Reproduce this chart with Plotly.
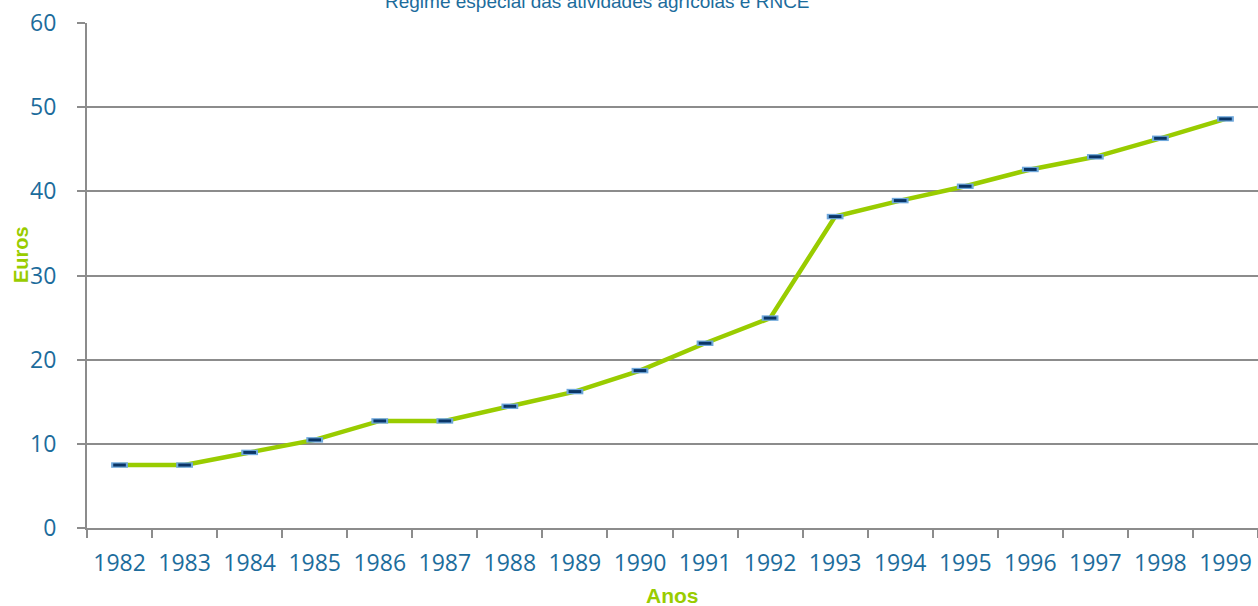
import plotly.graph_objects as go

years = [str(y) for y in range(1982, 2000)]
values = [7.48, 7.48, 8.98, 10.47, 12.72, 12.72, 14.46, 16.21, 18.70, 21.95, 24.94,
          37.0, 38.9, 40.6, 42.6, 44.1, 46.3, 48.6]

title_text = "Regime especial das atividades agrícolas e RNCE"
x_title = "Anos"
y_title = "Euros"

BLUE_TXT = "#1c6c9c"
GREEN = "#99cc00"
GRID = "#8c8c8c"

L, T, W, H = 87, 23, 1171, 505  # plot area in pixels


def px_x(x):
    return (x - L) / W


def px_y(y):
    return (T + H - y) / H


fig = go.Figure()
fig.add_trace(go.Scatter(x=years, y=values, mode="lines",
                         line=dict(color=GREEN, width=4.5), hoverinfo="skip", showlegend=False))
fig.add_trace(go.Scatter(x=years, y=values, mode="markers",
                         marker=dict(symbol="line-ew", size=12, line=dict(color="#6fa8dc", width=5.5)),
                         showlegend=False))
fig.add_trace(go.Scatter(x=years, y=values, mode="markers",
                         marker=dict(symbol="line-ew", size=9, line=dict(color="#0a3566", width=3)),
                         showlegend=False))

fig.update_layout(
    width=1258, height=606,
    margin=dict(l=L, r=0, t=T, b=606 - T - H),
    paper_bgcolor="white", plot_bgcolor="white",
    font=dict(family="Open Sans", color=BLUE_TXT),
    xaxis=dict(type="category", range=[-0.5, 17.5],
               showline=True, linecolor=GRID, linewidth=2,
               ticks="outside", tickson="boundaries", ticklen=8, tickcolor=GRID, tickwidth=2,
               showgrid=False, tickfont=dict(size=23, color=BLUE_TXT, family="Open Sans"),
               ticklabelstandoff=13),
    yaxis=dict(range=[0, 60], tickvals=[0, 10, 20, 30, 40, 50, 60],
               showline=True, linecolor=GRID, linewidth=2,
               ticks="outside", ticklen=8, tickcolor=GRID, tickwidth=2,
               showgrid=True, gridcolor=GRID, gridwidth=1.5, zeroline=False,
               tickfont=dict(size=23, color=BLUE_TXT, family="Open Sans"),
               ticklabelstandoff=16),
    annotations=[
        dict(text=title_text, xref="paper", yref="paper", x=px_x(597), y=1,
             yshift=9, xanchor="center", yanchor="bottom", showarrow=False,
             font=dict(size=19, color=BLUE_TXT, family="Liberation Sans")),
        dict(text="<b>" + x_title + "</b>", xref="paper", yref="paper", x=px_x(672), y=px_y(595),
             xanchor="center", yanchor="middle", showarrow=False,
             font=dict(size=21, color=GREEN, family="Liberation Sans")),
        dict(text="<b>" + y_title + "</b>", xref="paper", yref="paper", x=px_x(21), y=px_y(255),
             xanchor="center", yanchor="middle", showarrow=False, textangle=-90,
             font=dict(size=20, color=GREEN, family="Liberation Sans")),
    ],
)

fig.write_html("out.html", config={"displayModeBar": False},
               post_script="document.body.style.margin='0';")
